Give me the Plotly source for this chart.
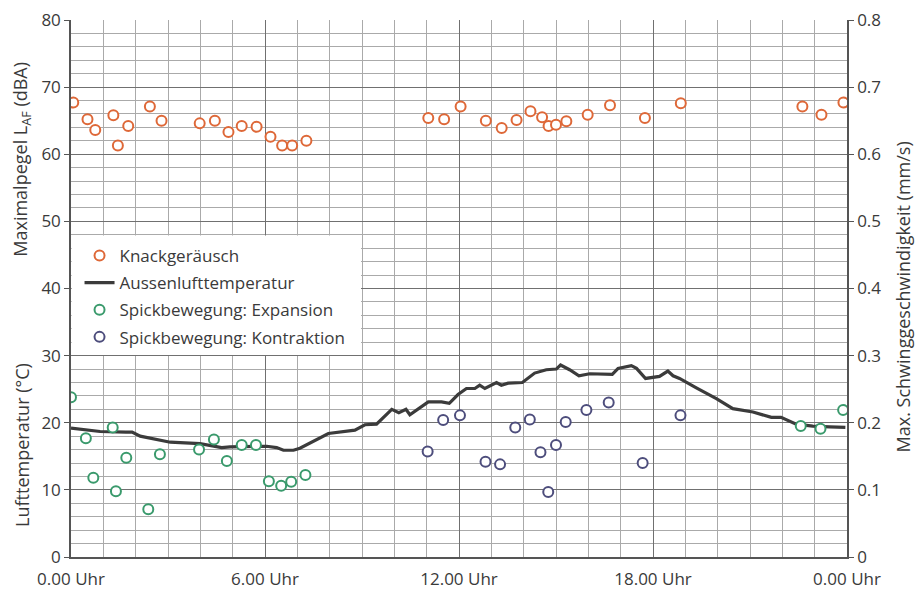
import plotly.graph_objects as go

# ---- data ----
knack_h = [0.07, 0.51, 0.75, 1.31, 1.45, 1.77, 2.44, 2.80, 3.98, 4.45, 4.87, 5.28, 5.74,
           6.17, 6.53, 6.84, 7.28, 11.05, 11.54, 12.05, 12.83, 13.32, 13.78, 14.21, 14.57,
           14.77, 15.00, 15.32, 15.98, 16.67, 17.75, 18.86, 22.62, 23.21, 23.89]
knack_db = [67.7, 65.2, 63.6, 65.8, 61.3, 64.2, 67.1, 65.0, 64.6, 65.0, 63.3, 64.2, 64.1,
            62.6, 61.3, 61.3, 62.0, 65.4, 65.2, 67.1, 65.0, 63.9, 65.1, 66.4, 65.5,
            64.2, 64.4, 64.9, 65.9, 67.3, 65.4, 67.6, 67.1, 65.9, 67.7]

temp_h = [0.0, 0.9, 1.7, 1.89, 2.14, 3.07, 3.99, 4.66, 4.92, 6.05, 6.36, 6.57, 6.88,
          7.08, 7.96, 8.78, 9.09, 9.45, 9.92, 10.14, 10.36, 10.48, 11.05, 11.46, 11.7,
          11.97, 12.23, 12.49, 12.64, 12.8, 13.16, 13.31, 13.52, 13.96, 14.34, 14.7,
          15.01, 15.14, 15.42, 15.71, 16.04, 16.74, 16.92, 17.33, 17.49, 17.77, 18.2,
          18.46, 18.62, 18.82, 19.34, 19.96, 20.47, 21.09, 21.66, 21.96, 22.43, 22.94,
          23.46, 23.95]
temp_c = [19.2, 18.7, 18.6, 18.6, 18.0, 17.1, 16.9, 16.3, 16.4, 16.5, 16.3, 15.9, 15.9,
          16.2, 18.4, 18.9, 19.7, 19.8, 22.0, 21.5, 22.0, 21.2, 23.1, 23.1, 22.9,
          24.2, 25.1, 25.1, 25.6, 25.1, 26.0, 25.6, 25.9, 26.0, 27.4, 27.9,
          28.0, 28.6, 27.9, 27.0, 27.3, 27.2, 28.1, 28.5, 28.1, 26.6, 26.9,
          27.7, 27.0, 26.6, 25.2, 23.6, 22.1, 21.6, 20.8, 20.8, 19.8, 19.5,
          19.4, 19.3]

exp_h = [0.0, 0.46, 0.69, 1.29, 1.39, 1.71, 2.39, 2.75, 3.96, 4.42, 4.82, 5.28, 5.72,
         6.12, 6.50, 6.81, 7.25, 22.57, 23.18, 23.88]
exp_v = [0.238, 0.177, 0.118, 0.193, 0.098, 0.148, 0.071, 0.153, 0.160, 0.175, 0.143,
         0.167, 0.167, 0.113, 0.106, 0.112, 0.122, 0.195, 0.191, 0.219]

kon_h = [11.03, 11.51, 12.03, 12.82, 13.27, 13.74, 14.19, 14.52, 14.76, 15.00, 15.30,
         15.94, 16.63, 17.68, 18.85]
kon_v = [0.157, 0.204, 0.211, 0.142, 0.138, 0.193, 0.205, 0.156, 0.097, 0.167, 0.201,
         0.219, 0.230, 0.140, 0.211]

x_tickvals = [0, 6, 12, 18, 24]
x_ticktext = ["0.00 Uhr", "6.00 Uhr", "12.00 Uhr", "18.00 Uhr", "0.00 Uhr"]
left_ticks = [0, 10, 20, 30, 40, 50, 60, 70, 80]
right_ticks = [0, 0.1, 0.2, 0.3, 0.4, 0.5, 0.6, 0.7, 0.8]
right_ticktext = ["0", "0.1", "0.2", "0.3", "0.4", "0.5", "0.6", "0.7", "0.8"]

# ---- style ----
FONT = "Open Sans"
TXT = "#3a3a3a"
ORANGE = "#de6838"
GREEN = "#3a9a6c"
PURPLE = "#4d4d7c"
MINOR = "#aaaaaa"
MAJOR = "#707070"
FS = 17
TFS = 18

fig = go.Figure()
fig.add_trace(go.Scatter(x=knack_h, y=knack_db, mode="markers", name="Knackgeräusch",
                         legendgroup="a",
                         marker=dict(symbol="circle", size=10, color="white",
                                     line=dict(color=ORANGE, width=2))))
fig.add_trace(go.Scatter(x=temp_h, y=temp_c, mode="lines", name="Aussenlufttemperatur",
                         legendgroup="b",
                         line=dict(color="#3b3b3b", width=3.2)))
fig.add_trace(go.Scatter(x=exp_h, y=exp_v, mode="markers", yaxis="y2",
                         name="Spickbewegung: Expansion", legendgroup="c",
                         marker=dict(symbol="circle", size=10, color="white",
                                     line=dict(color=GREEN, width=2))))
fig.add_trace(go.Scatter(x=kon_h, y=kon_v, mode="markers", yaxis="y2",
                         name="Spickbewegung: Kontraktion", legendgroup="d",
                         marker=dict(symbol="circle", size=10, color="white",
                                     line=dict(color=PURPLE, width=2))))

fig.update_layout(
    width=916, height=593,
    margin=dict(l=71, r=69, t=20, b=36, autoexpand=False),
    paper_bgcolor="white", plot_bgcolor="white",
    font=dict(family=FONT, size=FS, color=TXT),
    showlegend=True,
    legend=dict(x=0.011, y=0.594, xanchor="left", yanchor="top",
                bgcolor="rgba(0,0,0,0)", borderwidth=0,
                tracegroupgap=2, font=dict(size=FS, color=TXT)),
    xaxis=dict(range=[0, 24], tickvals=x_tickvals, ticktext=x_ticktext,
               showgrid=True, gridcolor=MAJOR, gridwidth=1,
               minor=dict(dtick=1, showgrid=True, gridcolor=MINOR, gridwidth=1),
               showline=True, linecolor="#555", linewidth=1.5,
               ticks="outside", ticklen=6, tickcolor="rgba(0,0,0,0)",
               zeroline=False, automargin=False, tickfont=dict(size=FS, color=TXT)),
    yaxis=dict(range=[0, 80], tickvals=left_ticks,
               showgrid=True, gridcolor=MAJOR, gridwidth=1,
               minor=dict(dtick=2, showgrid=True, gridcolor=MINOR, gridwidth=1),
               showline=True, linecolor="#555", linewidth=1.5,
               ticks="outside", ticklen=5, tickcolor="#555",
               zeroline=False, automargin=False, tickfont=dict(size=FS, color=TXT)),
    yaxis2=dict(range=[0, 0.8], tickvals=right_ticks, ticktext=right_ticktext,
                overlaying="y", side="right", showgrid=False,
                showline=True, linecolor="#555", linewidth=1.5,
                ticks="outside", ticklen=5, tickcolor="#555",
                zeroline=False, automargin=False, tickfont=dict(size=FS, color=TXT)),
)

# white box behind legend, masking the grid
fig.add_shape(type="rect", xref="x", yref="y", x0=0.02, x1=8.97, y0=30.1, y1=47.9,
              fillcolor="white", line=dict(width=0), layer="between")

fig.add_annotation(text="Maximalpegel L<sub>AF</sub> (dBA)", xref="paper", yref="paper",
                   x=-0.063, y=0.74, textangle=-90, showarrow=False,
                   font=dict(size=TFS, color=TXT), xanchor="center", yanchor="middle")
fig.add_annotation(text="Lufttemperatur (°C)", xref="paper", yref="paper",
                   x=-0.063, y=0.209, textangle=-90, showarrow=False,
                   font=dict(size=TFS, color=TXT), xanchor="center", yanchor="middle")
fig.add_annotation(text="Max. Schwinggeschwindigkeit (mm/s)", xref="paper", yref="paper",
                   x=1.072, y=0.485, textangle=-90, showarrow=False,
                   font=dict(size=TFS, color=TXT), xanchor="center", yanchor="middle")

fig.write_html("out.html", config={"displayModeBar": False},
               post_script="document.body.style.margin='0px';")
